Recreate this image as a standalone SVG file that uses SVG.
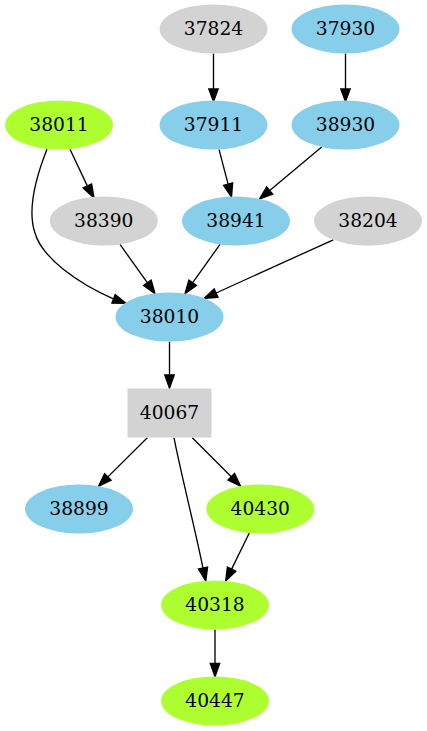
<svg xmlns="http://www.w3.org/2000/svg" width="427" height="731" viewBox="0 0 427 731">
<style>
.n text{font-family:"DejaVu Serif",serif;font-size:18.67px;text-anchor:middle;fill:#000}
.blue{fill:#87ceeb}
.green{fill:#adff2f}
.grey{fill:#d3d3d3}
#edges path{fill:none;stroke:#000;stroke-width:1.33}
#edges polygon{fill:#000;stroke:#000;stroke-width:1.33}
</style>
<rect width="427" height="731" fill="#fff"/>
<g id="edges">
<path d="M213.5,53.5 L213.5,89"/><polygon points="208.8,89 213.5,101.5 218.2,89"/>
<path d="M345.5,53.5 L345.5,89"/><polygon points="340.8,89 345.5,101.5 350.2,89"/>
<path d="M70,149.3 L87.3,185.9"/><polygon points="91.6,183.9 94,198 83.1,187.9"/>
<path d="M47,149.3 C38,172 26,207 35,233 C42,258 79,284 113.5,298.8"/><polygon points="115.2,294.5 126,303.3 111.9,303.2"/>
<path d="M219,149.3 L228.1,184.1"/><polygon points="232.6,182.9 231.5,197 223.6,185.3"/>
<path d="M321.7,147 L269.7,190.5"/><polygon points="272.7,194.1 259.5,199 266.7,186.9"/>
<path d="M120,244.4 L147.3,282.7"/><polygon points="151.1,280 155,293.5 143.5,285.4"/>
<path d="M220,244.4 L192.7,282.7"/><polygon points="196.5,285.4 185,293.5 188.9,280"/>
<path d="M333.3,239.8 L216.1,293"/><polygon points="218,297.3 204,298.5 214.2,288.8"/>
<path d="M169.5,341.7 L169.5,375"/><polygon points="164.8,375 169.5,388.3 174.2,375"/>
<path d="M147.3,437.7 L107.9,476.9"/><polygon points="111.2,480.2 98.5,486.3 104.6,473.6"/>
<path d="M174,437.7 C179,465 193,520 203,568"/><polygon points="207.6,567 205.8,581 198.4,569"/>
<path d="M192.3,437.7 L231.3,476.8"/><polygon points="234.6,473.5 240.7,486.3 228,480.1"/>
<path d="M249.3,533 L231.6,569.1"/><polygon points="235.8,571.2 225.7,581 227.4,567"/>
<path d="M215,629.5 L215,663.5"/><polygon points="210.3,663.5 215,676.7 219.7,663.5"/>
</g>
<g id="n37824" class="n"><ellipse class="grey" cx="213.5" cy="29" rx="54" ry="24.5"/><text x="213.5" y="35">37824</text></g>
<g id="n37930" class="n"><ellipse class="blue" cx="345.5" cy="29" rx="54" ry="24.5"/><text x="345.5" y="35">37930</text></g>
<g id="n38011" class="n"><ellipse class="green" cx="59" cy="125" rx="54" ry="24.5"/><text x="59" y="131">38011</text></g>
<g id="n37911" class="n"><ellipse class="blue" cx="213.5" cy="125" rx="54" ry="24.5"/><text x="213.5" y="131">37911</text></g>
<g id="n38930" class="n"><ellipse class="blue" cx="345.5" cy="125" rx="54" ry="24.5"/><text x="345.5" y="131">38930</text></g>
<g id="n38390" class="n"><ellipse class="grey" cx="103.8" cy="221" rx="54" ry="24.5"/><text x="103.8" y="227">38390</text></g>
<g id="n38941" class="n"><ellipse class="blue" cx="236" cy="221" rx="54" ry="24.5"/><text x="236" y="227">38941</text></g>
<g id="n38204" class="n"><ellipse class="grey" cx="368" cy="221" rx="54" ry="24.5"/><text x="368" y="227">38204</text></g>
<g id="n38010" class="n"><ellipse class="blue" cx="169.5" cy="317" rx="54" ry="24.5"/><text x="169.5" y="323">38010</text></g>
<g id="n40067" class="n"><rect class="grey" x="127.5" y="388.5" width="84" height="49"/><text x="169.5" y="419">40067</text></g>
<g id="n38899" class="n"><ellipse class="blue" cx="79" cy="509" rx="54" ry="24.5"/><text x="79" y="515">38899</text></g>
<g id="n40430" class="n"><ellipse class="green" cx="260.3" cy="509" rx="54" ry="24.5"/><text x="260.3" y="515">40430</text></g>
<g id="n40318" class="n"><ellipse class="green" cx="215" cy="605" rx="54" ry="24.5"/><text x="215" y="611">40318</text></g>
<g id="n40447" class="n"><ellipse class="green" cx="215" cy="701" rx="54" ry="24.5"/><text x="215" y="707">40447</text></g>
</svg>
